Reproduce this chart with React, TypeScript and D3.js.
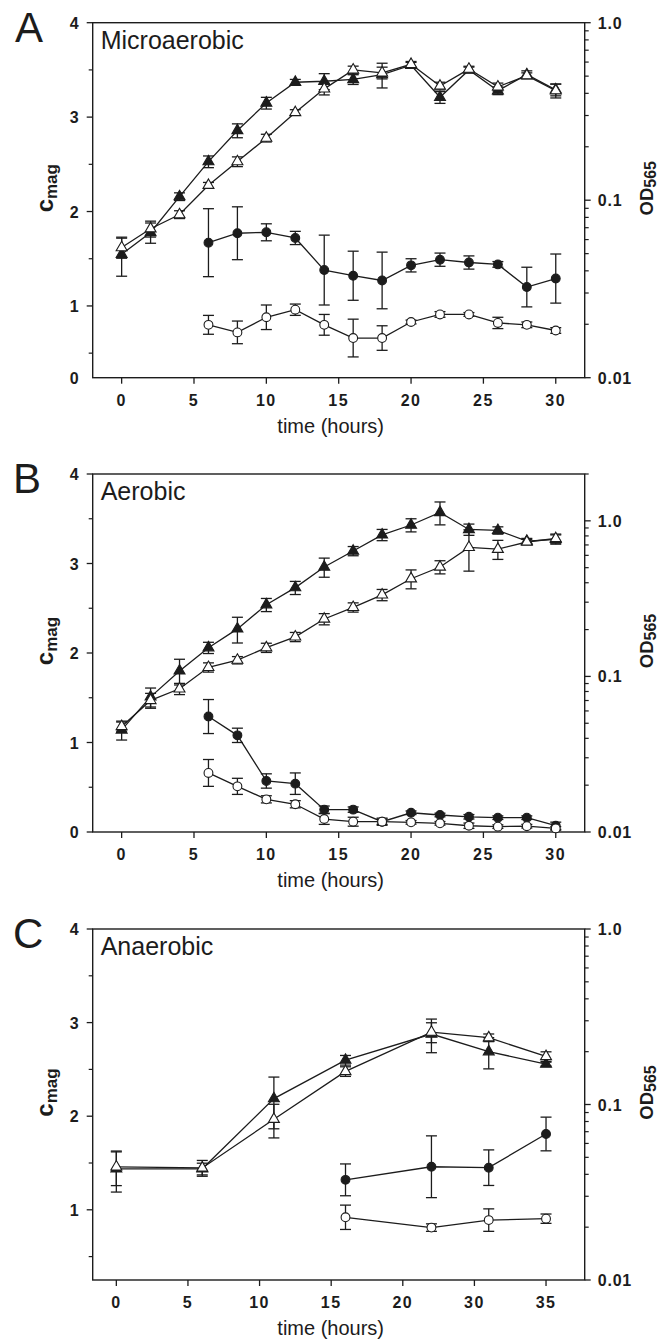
import React from "react";
import * as d3 from "d3";

// ---------- DATA ----------
const hoursAB = [0, 2, 4, 6, 8, 10, 12, 14, 16, 18, 20, 22, 24, 26, 28, 30];
const hoursCircAB = [6, 8, 10, 12, 14, 16, 18, 20, 22, 24, 26, 28, 30];

// Panel A (Microaerobic)
const aTriFilledOD = [0.0496, 0.0658, 0.1048, 0.165, 0.247, 0.353, 0.462, 0.468, 0.479, 0.51, 0.576, 0.38, 0.542, 0.414, 0.51, 0.419];
const aTriFilledErr = [0.0123, 0.0086, 0.0052, 0.0125, 0.0222, 0.0268, 0.0171, 0.0482, 0.0302, 0.0811, 0.0213, 0.0289, 0.02, 0.0207, 0.0255, 0.0318];
const aTriOpenOD = [0.0541, 0.0691, 0.083, 0.1214, 0.165, 0.224, 0.312, 0.424, 0.542, 0.522, 0.583, 0.44, 0.548, 0.435, 0.503, 0.414];
const aTriOpenErr = [0.007, 0.0071, 0.0042, 0.0045, 0.0104, 0.0112, 0.0115, 0.0322, 0.0271, 0.0397, 0.0216, 0.022, 0.0203, 0.0218, 0.0186, 0.0373];
const aCircFilled = [1.67, 1.77, 1.78, 1.72, 1.38, 1.32, 1.27, 1.43, 1.49, 1.46, 1.44, 1.2, 1.29];
const aCircFilledErr = [0.36, 0.28, 0.09, 0.07, 0.37, 0.26, 0.3, 0.07, 0.07, 0.07, 0.03, 0.21, 0.26];
const aCircOpen = [0.8, 0.72, 0.88, 0.96, 0.8, 0.66, 0.66, 0.83, 0.91, 0.91, 0.82, 0.8, 0.74];
const aCircOpenErr = [0.1, 0.12, 0.13, 0.06, 0.11, 0.2, 0.13, 0.02, 0.03, 0.02, 0.06, 0.03, 0.03];

// Panel B (Aerobic)
const bTriFilledOD = [0.0453, 0.0739, 0.1085, 0.153, 0.202, 0.289, 0.372, 0.505, 0.64, 0.813, 0.94, 1.132, 0.88, 0.868, 0.741, 0.76];
const bTriFilledErr = [0.0063, 0.0103, 0.0204, 0.0127, 0.038, 0.028, 0.036, 0.071, 0.0435, 0.0675, 0.091, 0.19, 0.073, 0.047, 0.03, 0.052];
const bTriOpenOD = [0.0477, 0.0701, 0.0833, 0.1144, 0.1272, 0.153, 0.1795, 0.2339, 0.278, 0.3344, 0.4246, 0.505, 0.675, 0.657, 0.731, 0.77];
const bTriOpenErr = [0.0032, 0.0077, 0.0069, 0.0078, 0.0069, 0.0104, 0.0122, 0.0194, 0.019, 0.0278, 0.059, 0.049, 0.2, 0.092, 0.029, 0.052];
const bCircFilled = [1.29, 1.08, 0.57, 0.54, 0.25, 0.25, 0.115, 0.215, 0.19, 0.17, 0.16, 0.16, 0.07];
const bCircFilledErr = [0.19, 0.08, 0.08, 0.12, 0.04, 0.03, 0.03, 0.02, 0.02, 0.025, 0.02, 0.02, 0.04];
const bCircOpen = [0.66, 0.51, 0.365, 0.31, 0.145, 0.115, 0.115, 0.108, 0.097, 0.07, 0.06, 0.065, 0.04];
const bCircOpenErr = [0.15, 0.09, 0.04, 0.04, 0.06, 0.05, 0.04, 0.02, 0.02, 0.03, 0.02, 0.02, 0.02];

// Panel C (Anaerobic)
const hoursC = [0, 6, 11, 16, 22, 26, 30];
const hoursCircC = [16, 22, 26, 30];
const cTriFilledOD = [0.043, 0.043, 0.108, 0.179, 0.252, 0.2, 0.17];
const cTriFilledErr = [0.0113, 0.0033, 0.0353, 0.0113, 0.0547, 0.0404, 0.0043];
const cTriOpenOD = [0.0441, 0.0435, 0.0824, 0.1543, 0.2586, 0.2402, 0.1878];
const cTriOpenErr = [0.0096, 0.0045, 0.0179, 0.0097, 0.0336, 0.012, 0.0118];
const cCircFilled = [1.32, 1.46, 1.45, 1.81];
const cCircFilledErr = [0.17, 0.33, 0.19, 0.18];
const cCircOpen = [0.92, 0.81, 0.89, 0.905];
const cCircOpenErr = [0.13, 0.04, 0.12, 0.05];

// Tick labels
const xTicksAB = [0, 5, 10, 15, 20, 25, 30];
const xTickLabelsAB = ["0", "5", "10", "15", "20", "25", "30"];
const xTicksC = [0, 5, 10, 15, 20, 25, 30];
const xTickLabelsC = ["0", "5", "10", "15", "20", "30", "35"];
const leftMajor = [0, 1, 2, 3, 4];
const leftMinor = [0.5, 1.5, 2.5, 3.5];
const rightMajor = [0.01, 0.1, 1];
const rightMajorLabels = ["0.01", "0.1", "1.0"];
const panelLetters = ["A", "B", "C"];
const panelTitles = ["Microaerobic", "Aerobic", "Anaerobic"];

// ---------- LAYOUT ----------
const W = 668;
const H = 1340;
const FONT = "'Liberation Sans', Arial, Helvetica, sans-serif";
const INK = "#1c1c1c";
const LEFT = 92.7;
const RIGHT = 584.7;

type Series = { t: number[]; v: number[]; e: number[]; filled: boolean; shape: "tri" | "circ"; axis: "left" | "right" };

type PanelCfg = {
  letter: string;
  title: string;
  top: number;
  bottom: number;
  xDomain: [number, number];
  xTicks: number[];
  xLabels: string[];
  leftDomain: [number, number];
  rightDomain: [number, number];
  baseZeroLabel: boolean;
  series: Series[];
};

const panels: PanelCfg[] = [
  {
    letter: panelLetters[0], title: panelTitles[0], top: 22.7, bottom: 377.7,
    xDomain: [-2, 32], xTicks: xTicksAB, xLabels: xTickLabelsAB,
    leftDomain: [0.24, 4], rightDomain: [0.01, 1], baseZeroLabel: true,
    series: [
      { t: hoursCircAB, v: aCircFilled, e: aCircFilledErr, filled: true, shape: "circ", axis: "left" },
      { t: hoursCircAB, v: aCircOpen, e: aCircOpenErr, filled: false, shape: "circ", axis: "left" },
      { t: hoursAB, v: aTriFilledOD, e: aTriFilledErr, filled: true, shape: "tri", axis: "right" },
      { t: hoursAB, v: aTriOpenOD, e: aTriOpenErr, filled: false, shape: "tri", axis: "right" },
    ],
  },
  {
    letter: panelLetters[1], title: panelTitles[1], top: 474, bottom: 832,
    xDomain: [-2, 32], xTicks: xTicksAB, xLabels: xTickLabelsAB,
    leftDomain: [0, 4], rightDomain: [0.01, 2], baseZeroLabel: false,
    series: [
      { t: hoursCircAB, v: bCircFilled, e: bCircFilledErr, filled: true, shape: "circ", axis: "left" },
      { t: hoursCircAB, v: bCircOpen, e: bCircOpenErr, filled: false, shape: "circ", axis: "left" },
      { t: hoursAB, v: bTriFilledOD, e: bTriFilledErr, filled: true, shape: "tri", axis: "right" },
      { t: hoursAB, v: bTriOpenOD, e: bTriOpenErr, filled: false, shape: "tri", axis: "right" },
    ],
  },
  {
    letter: panelLetters[2], title: panelTitles[2], top: 929, bottom: 1280,
    xDomain: [-1.65, 32.7], xTicks: xTicksC, xLabels: xTickLabelsC,
    leftDomain: [0.25, 4], rightDomain: [0.01, 1], baseZeroLabel: false,
    series: [
      { t: hoursCircC, v: cCircFilled, e: cCircFilledErr, filled: true, shape: "circ", axis: "left" },
      { t: hoursCircC, v: cCircOpen, e: cCircOpenErr, filled: false, shape: "circ", axis: "left" },
      { t: hoursC, v: cTriFilledOD, e: cTriFilledErr, filled: true, shape: "tri", axis: "right" },
      { t: hoursC, v: cTriOpenOD, e: cTriOpenErr, filled: false, shape: "tri", axis: "right" },
    ],
  },
];

const triPath = d3.symbol(d3.symbolTriangle, 52)() as string;

function Panel({ cfg }: { cfg: PanelCfg }) {
  const x = d3.scaleLinear().domain(cfg.xDomain).range([LEFT, RIGHT]);
  const yL = d3.scaleLinear().domain(cfg.leftDomain).range([cfg.bottom, cfg.top]);
  const yR = d3.scaleLog().domain(cfg.rightDomain).range([cfg.bottom, cfg.top]);
  const mid = (cfg.top + cfg.bottom) / 2;

  const inL = (v: number) => v >= cfg.leftDomain[0] - 1e-9 && v <= cfg.leftDomain[1] + 1e-9;
  const rightMinor: number[] = [];
  [0.01, 0.1, 1].forEach((dec) => {
    for (let k = 2; k <= 9; k++) {
      const v = k * dec;
      if (v <= cfg.rightDomain[1] + 1e-9) rightMinor.push(v);
    }
  });

  const line = d3.line<[number, number]>().x((d) => d[0]).y((d) => d[1]);

  return (
    <g>
      <text x={cfg.letter === "A" ? 15 : 13} y={cfg.top + 19} fontFamily={FONT} fontSize={42} fill={INK}>
        {cfg.letter}
      </text>
      <text x={LEFT + 8} y={cfg.top + 26} fontFamily={FONT} fontSize={25} fill={INK}>
        {cfg.title}
      </text>

      {/* frame */}
      <rect x={LEFT} y={cfg.top} width={RIGHT - LEFT} height={cfg.bottom - cfg.top} fill="none" stroke={INK} strokeWidth={1.4} />

      {/* x ticks */}
      {cfg.xTicks.map((t, i) => (
        <g key={"xt" + i}>
          <line x1={x(t)} x2={x(t)} y1={cfg.bottom} y2={cfg.bottom + 6} stroke={INK} strokeWidth={1.3} />
          <text x={x(t)} y={cfg.bottom + 28} textAnchor="middle" fontFamily={FONT} fontWeight="bold" fontSize={16} letterSpacing={1.5} fill={INK}>
            {cfg.xLabels[i]}
          </text>
        </g>
      ))}
      <text x={(LEFT + RIGHT) / 2 - 8} y={cfg.bottom + 55} textAnchor="middle" fontFamily={FONT} fontSize={20} fill={INK}>
        time (hours)
      </text>

      {/* left axis */}
      {leftMajor.filter(inL).map((v) => (
        <g key={"lm" + v}>
          <line x1={LEFT - 6} x2={LEFT} y1={yL(v)} y2={yL(v)} stroke={INK} strokeWidth={1.3} />
          <text x={LEFT - 14} y={yL(v) + 6} textAnchor="end" fontFamily={FONT} fontWeight="bold" fontSize={16} fill={INK}>
            {String(v)}
          </text>
        </g>
      ))}
      {cfg.baseZeroLabel && (
        <text x={LEFT - 14} y={cfg.bottom + 6} textAnchor="end" fontFamily={FONT} fontWeight="bold" fontSize={16} fill={INK}>
          0
        </text>
      )}
      {leftMinor.filter(inL).map((v) => (
        <line key={"ln" + v} x1={LEFT - 4} x2={LEFT} y1={yL(v)} y2={yL(v)} stroke={INK} strokeWidth={1.2} />
      ))}
      <text transform={`translate(53,${mid - 12}) rotate(-90)`} textAnchor="middle" fontFamily={FONT} fontWeight="bold" fill={INK}>
        <tspan fontSize={24}>c</tspan>
        <tspan fontSize={17} dy={4}>mag</tspan>
      </text>

      {/* right axis */}
      {rightMajor.map((v, i) => (
        <g key={"rm" + i}>
          <line x1={RIGHT} x2={RIGHT + 6} y1={yR(v)} y2={yR(v)} stroke={INK} strokeWidth={1.3} />
          <text x={RIGHT + 13} y={yR(v) + 6} fontFamily={FONT} fontWeight="bold" fontSize={16} letterSpacing={0.8} fill={INK}>
            {rightMajorLabels[i]}
          </text>
        </g>
      ))}
      {rightMinor.map((v, i) => (
        <line key={"rn" + i} x1={RIGHT} x2={RIGHT + 4} y1={yR(v)} y2={yR(v)} stroke={INK} strokeWidth={1.2} />
      ))}
      <text transform={`translate(653,${mid - 12}) rotate(-90)`} textAnchor="middle" fontFamily={FONT} fontWeight="bold" fill={INK}>
        <tspan fontSize={18.5}>OD</tspan>
        <tspan fontSize={16} dy={3}>565</tspan>
      </text>

      {/* series */}
      {cfg.series.map((s, si) => {
        const y = s.axis === "left" ? yL : yR;
        const pts: [number, number][] = s.t.map((t, i) => [x(t), y(s.v[i])]);
        return (
          <g key={"s" + si}>
            <path d={line(pts) as string} fill="none" stroke={INK} strokeWidth={1.3} />
            {s.t.map((t, i) => {
              const lo = Math.max(s.v[i] - s.e[i], s.axis === "right" ? cfg.rightDomain[0] : cfg.leftDomain[0]);
              const y1 = y(lo);
              const y2 = y(s.v[i] + s.e[i]);
              const xc = x(t);
              return (
                <g key={"e" + i} stroke={INK} strokeWidth={1.3}>
                  <line x1={xc} x2={xc} y1={y1} y2={y2} />
                  <line x1={xc - 5.5} x2={xc + 5.5} y1={y1} y2={y1} />
                  <line x1={xc - 5.5} x2={xc + 5.5} y1={y2} y2={y2} />
                </g>
              );
            })}
          </g>
        );
      })}
      {cfg.series.map((s, si) => {
        const y = s.axis === "left" ? yL : yR;
        return (
          <g key={"m" + si}>
            {s.t.map((t, i) =>
              s.shape === "circ" ? (
                <circle key={i} cx={x(t)} cy={y(s.v[i])} r={4.4} fill={s.filled ? INK : "#fff"} stroke={INK} strokeWidth={1.1} />
              ) : (
                <path key={i} d={triPath} transform={`translate(${x(t)},${y(s.v[i])})`} fill={s.filled ? INK : "#fff"} stroke={INK} strokeWidth={1.1} />
              )
            )}
          </g>
        );
      })}
    </g>
  );
}

export default function App() {
  return (
    <svg width={W} height={H} viewBox={`0 0 ${W} ${H}`} style={{ position: "absolute", left: 0, top: 0, background: "#fff" }}>
      <rect x={0} y={0} width={W} height={H} fill="#fff" />
      {panels.map((p) => (
        <Panel key={p.letter} cfg={p} />
      ))}
    </svg>
  );
}
